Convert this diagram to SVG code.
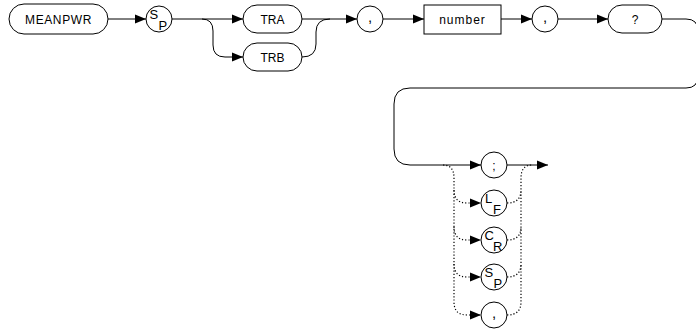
<svg xmlns="http://www.w3.org/2000/svg" width="696" height="329" viewBox="0 0 696 329">
<defs>
<marker id="ah" markerWidth="11" markerHeight="10" refX="11" refY="5" orient="auto" markerUnits="userSpaceOnUse">
<path d="M0,0.5 L11,5 L0,9.5 Z" fill="#000"/>
</marker>
<style>
.n{fill:#fff;stroke:#000;stroke-width:1}
.t{font-family:"Liberation Sans",Arial,sans-serif;font-size:12px;fill:#000;text-anchor:middle}
.s{font-family:"Liberation Sans",Arial,sans-serif;font-size:13px;fill:#000}
.p{font-family:"Liberation Sans",Arial,sans-serif;font-size:15px;fill:#000;text-anchor:middle}
.c{fill:none;stroke:#000;stroke-width:1}
.d{fill:none;stroke:#000;stroke-width:1.2;stroke-dasharray:1.2 2}
</style>
</defs>
<rect width="696" height="329" fill="#fff"/>
<g id="connectors">
<path class="c" d="M108,19 H146" marker-end="url(#ah)"/>
<path class="c" d="M172,19 H243" marker-end="url(#ah)"/>
<path class="c" d="M202,19 Q213,19 213,31 V45 Q213,57 225,57 H243" marker-end="url(#ah)"/>
<path class="c" d="M302,19 H357" marker-end="url(#ah)"/>
<path class="c" d="M302,57 Q316,57 316,44 V32 Q316,19 330,19"/>
<path class="c" d="M383,19 H424" marker-end="url(#ah)"/>
<path class="c" d="M501,19 H532" marker-end="url(#ah)"/>
<path class="c" d="M558,19 H608" marker-end="url(#ah)"/>
<path class="c" d="M662,19 H686 Q698,19 698,31 V76 Q698,88 686,88 H410 Q394,88 394,104 V149 Q394,165 410,165 H481" marker-end="url(#ah)"/>
<path class="c" d="M507,165 H548" marker-end="url(#ah)"/>
<path class="d" d="M443,165 Q454,165 454,178 V302 Q454,315 467,315 H481" marker-end="url(#ah)"/>
<path class="d" d="M454,190 Q454,203 467,203 H481" marker-end="url(#ah)"/>
<path class="d" d="M454,227 Q454,240 467,240 H481" marker-end="url(#ah)"/>
<path class="d" d="M454,264 Q454,277 467,277 H481" marker-end="url(#ah)"/>
<path class="d" d="M507,315 Q521,315 521,302 V178 Q521,165 532,165"/>
<path class="d" d="M507,203 Q521,203 521,190"/>
<path class="d" d="M507,240 Q521,240 521,227"/>
<path class="d" d="M507,277 Q521,277 521,264"/>
</g>
<g id="meanpwr"><rect class="n" x="9" y="4" width="99" height="30" rx="15"/><text class="t" x="58.5" y="23.5" letter-spacing="0.6">MEANPWR</text></g>
<g id="sp1"><circle class="n" cx="159" cy="19" r="13"/><text class="s" x="149.5" y="19">S</text><text class="s" x="158.5" y="29.5">P</text></g>
<g id="tra"><rect class="n" x="243" y="5" width="59" height="28" rx="14"/><text class="t" x="272.5" y="23.5">TRA</text></g>
<g id="trb"><rect class="n" x="243" y="43" width="59" height="28" rx="14"/><text class="t" x="272.5" y="61.5">TRB</text></g>
<g id="comma1"><circle class="n" cx="370" cy="19" r="13"/><text class="p" x="370" y="22">,</text></g>
<g id="number"><rect class="n" x="424" y="5" width="77" height="29"/><text class="t" x="462.5" y="23.5" letter-spacing="1">number</text></g>
<g id="comma2"><circle class="n" cx="545" cy="19" r="13"/><text class="p" x="545" y="22">,</text></g>
<g id="query"><rect class="n" x="608" y="5" width="54" height="28" rx="14"/><text class="t" x="635" y="23.5">?</text></g>
<g id="semi"><circle class="n" cx="494" cy="165" r="13"/><text class="t" x="494" y="169.5">;</text></g>
<g id="lf"><circle class="n" cx="494" cy="203" r="13"/><text class="s" x="485" y="203">L</text><text class="s" x="493" y="213.5">F</text></g>
<g id="cr"><circle class="n" cx="494" cy="240" r="13"/><text class="s" x="484.5" y="240">C</text><text class="s" x="493" y="250.5">R</text></g>
<g id="sp2"><circle class="n" cx="494" cy="277" r="13"/><text class="s" x="484.5" y="277">S</text><text class="s" x="493.5" y="287.5">P</text></g>
<g id="comma3"><circle class="n" cx="494" cy="315" r="13"/><text class="p" x="494" y="318">,</text></g>
</svg>
